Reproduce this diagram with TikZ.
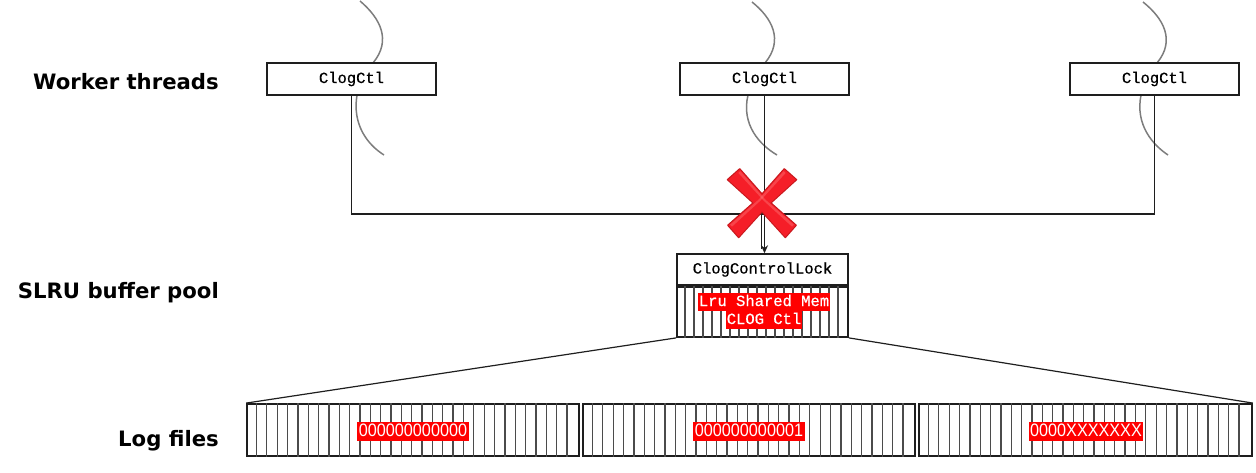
\documentclass[tikz,border=0pt]{standalone}
\usepackage{fontspec}
\setmainfont{Liberation Sans}
\newfontfamily\monofont[FakeBold=0.6]{Liberation Mono}
\newfontfamily\labelfont{DejaVu Sans}
\newfontfamily\narrowsans[FakeStretch=0.9]{Liberation Sans}
\usetikzlibrary{arrows.meta,calc}
\definecolor{xred}{RGB}{245,30,40}
\definecolor{xdark}{RGB}{200,25,30}
\definecolor{xlight}{RGB}{255,140,140}
\definecolor{lnc}{RGB}{30,30,30}
\definecolor{crv}{RGB}{125,125,125}
\tikzset{
  ctlbox/.style={draw=lnc, line width=1.4pt, fill=white, minimum width=169pt, minimum height=32pt, inner sep=0pt, font=\monofont\fontsize{15.5}{15.5}\selectfont},
  rowlabel/.style={anchor=east, inner sep=0pt, font=\labelfont\bfseries\fontsize{21.2}{22}\selectfont},
  redlbl/.style={fill=red, text=white, inner xsep=1pt, inner ysep=1pt, text height=12pt, text depth=4pt, font=\monofont\fontsize{15.5}{15.5}\selectfont},
  loglbl/.style={fill=red, text=white, inner xsep=1.5pt, inner ysep=1pt, text height=14pt, text depth=3pt, font=\narrowsans\fontsize{18}{18}\selectfont},
  thread/.style={draw=crv, line width=1.5pt},
  conn/.style={draw=lnc, line width=1.5pt},
  stripe/.style={draw=lnc!80, line width=1.3pt},
  framebox/.style={draw=lnc, line width=1.8pt, inner sep=0pt},
  xarm/.style={fill=xred, draw=xdark, line width=1.2pt, line join=round}
}
\begin{document}
\begin{tikzpicture}[x=1pt,y=-1pt]
\useasboundingbox (0,0) rectangle (1256,473);
% row labels
\node[rowlabel] (lw) at (219,82) {Worker threads};
\node[rowlabel] (ls) at (219,293) {SLRU buffer pool};
\node[rowlabel] (ll) at (219,441) {Log files};
% thread curves (behind boxes)
\draw[thread] (360,1) .. controls (380,18) and (392,40) .. (373,63);
\draw[thread] (357,95) .. controls (352,125) and (368,145) .. (384,155);
\draw[thread] (752,2) .. controls (772,18) and (784,40) .. (765,63);
\draw[thread] (748,95) .. controls (741,125) and (760,145) .. (777,155);
\draw[thread] (1143,2) .. controls (1163,18) and (1176,40) .. (1157,63);
\draw[thread] (1141,95) .. controls (1135,125) and (1153,145) .. (1168,155);
% ClogCtl boxes
\node[ctlbox] (c1) at (351.5,79) {ClogCtl};
\node[ctlbox] (c2) at (764.5,79) {ClogCtl};
\node[ctlbox] (c3) at (1154.5,79) {ClogCtl};
% lock box
\node[ctlbox, minimum width=171pt, minimum height=31pt] (lock) at (762.5,269.5) {ClogControlLock};
% buffer pool
\node[framebox, minimum width=171pt, minimum height=50pt] (pool) at (762.5,312) {};
\foreach \i in {1,...,18} {
  \draw[stripe] ($(pool.north west)+(\i*9,0)$) -- ($(pool.south west)+(\i*9,0)$);
}
\node[redlbl] (m1) at (764,302) {Lru Shared Mem};
\node[redlbl] (m2) at (764,320) {CLOG Ctl};
% connectors
\coordinate (j) at (764,214);
\draw[conn] (c1.south) |- (j) -| (c3.south);
\draw[conn, -{Stealth[length=8pt,width=7pt]}] (c2.south) -- (lock.north -| c2.south);
\draw[lnc, line width=1.1pt] (761.3,215) -- (761.3,249);
% red X
\begin{scope}[shift={(762,203)}]
  \foreach \a in {45,-45} {
    \draw[xarm, rotate=\a] (-40,-8.5) -- (0,-6) -- (40,-8.5) -- (41,8) -- (0,6) -- (-41,8) -- cycle;
  }
  \foreach \a in {45,-45} {
    \fill[xred, rotate=\a] (-39.4,-7.9) -- (0,-5.4) -- (39.4,-7.9) -- (40.3,7.4) -- (0,5.4) -- (-40.3,7.4) -- cycle;
  }
  \foreach \a in {45,-45} {
    \fill[xlight, opacity=0.35, rotate=\a] (-38,-7.2) -- (0,-4.8) -- (38,-7.2) -- (38,-4.5) -- (0,-2.8) -- (-38,-4.5) -- cycle;
  }
\end{scope}
% log files
\node[framebox, minimum width=332pt, minimum height=52pt] (f1) at (413,430) {};
\node[framebox, minimum width=332pt, minimum height=52pt] (f2) at (749,430) {};
\node[framebox, minimum width=333pt, minimum height=52pt] (f3) at (1085.5,430) {};
\foreach \f in {f1,f2,f3} {
  \foreach \i in {1,...,31} {
    \draw[stripe] ($(\f.north west)+(\i*10.35,0)$) -- ($(\f.south west)+(\i*10.35,0)$);
  }
}
\node[loglbl] (n1) at (413,431) {000000000000};
\node[loglbl] (n2) at (749,431) {000000000001};
\node[loglbl] (n3) at (1086,431) {0000XXXXXXX};
% fan lines
\draw[conn, line width=1.2pt] (pool.south west) -- (f1.north west);
\draw[conn, line width=1.2pt] (pool.south east) -- (f3.north east);
\end{tikzpicture}
\end{document}
